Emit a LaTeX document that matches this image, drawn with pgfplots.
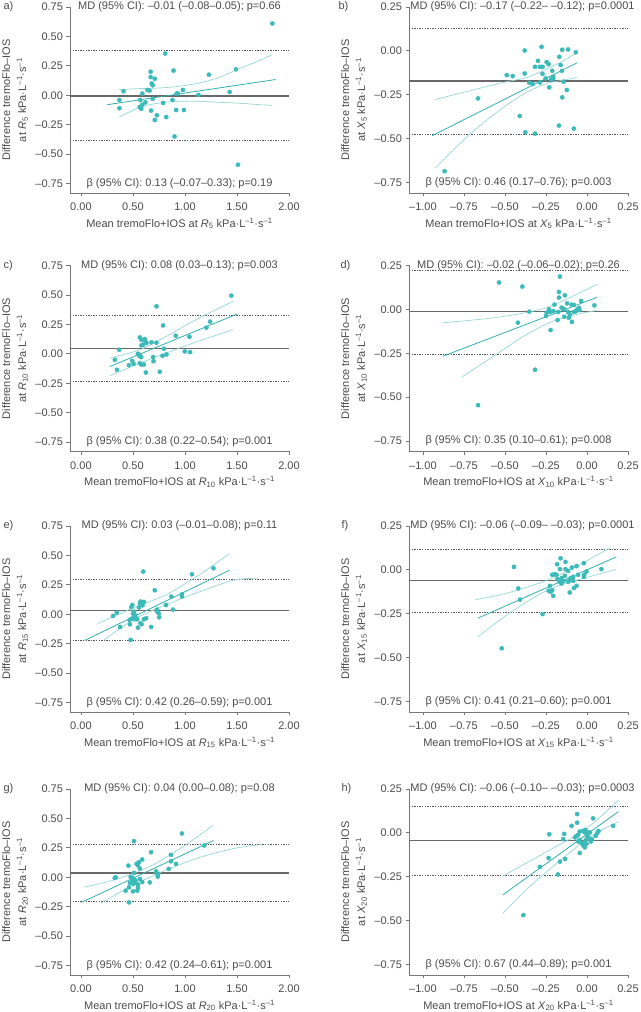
\documentclass[border=0pt]{standalone}
\usepackage{pgfplots}
\pgfplotsset{compat=1.18}
\usepackage{fontspec}
\setmainfont{Liberation Sans}
\definecolor{tealpt}{RGB}{60,186,186}
\definecolor{tealln}{RGB}{50,176,176}
\definecolor{tealci}{RGB}{150,214,214}
\definecolor{mdgray}{RGB}{105,105,105}
\definecolor{loagray}{RGB}{85,85,85}
\definecolor{axgray}{RGB}{120,120,120}
\definecolor{txtgray}{RGB}{75,75,75}
\newcommand{\unitt}{kPa·L\textsuperscript{–1}·s\textsuperscript{–1}}
\newcommand{\fs}{\fontsize{11}{16}\selectfont}
\tikzset{txt/.style={font=\fs, text=txtgray}}
\pgfplotsset{
 ba/.style={scale only axis, width=219pt, height=186pt,
   axis lines*=left, axis line style={axgray, line width=0.8pt},
   tick style={axgray, line width=0.8pt}, tick align=outside, major tick length=3.5pt,
   tick label style={font=\fs, text=txtgray},
   xticklabel style={yshift=-3pt},
   label style={font=\fs, text=txtgray},
   clip mode=individual,
   ylabel style={at={(axis description cs:-0.251,0.5)}, anchor=center, align=center},
   xlabel style={at={(axis description cs:0.5,-0.163)}, anchor=center},
   anchor=south west},
 baL/.style={ba, xmin=-0.105, xmax=2.0, ymin=-0.83, ymax=0.75,
   xtick={0,0.5,1,1.5,2}, xticklabels={0.00,0.50,1.00,1.50,2.00},
   ytick={-0.75,-0.5,-0.25,0,0.25,0.5,0.75},
   yticklabels={–0.75,–0.50,–0.25,0.00,0.25,0.50,0.75}},
 baR/.style={ba, xmin=-1.085, xmax=0.25, ymin=-0.81, ymax=0.25,
   xtick={-1,-0.75,-0.5,-0.25,0,0.25}, xticklabels={–1.00,–0.75,–0.50,–0.25,0.00,0.25},
   ytick={-0.75,-0.5,-0.25,0,0.25},
   yticklabels={–0.75,–0.50,–0.25,0.00,0.25}},
 pts/.style={only marks, mark=*, mark size=2.1pt, color=tealpt, mark options={draw=tealpt, fill=tealpt}},
 reg/.style={no marks, color=tealln, line width=0.8pt},
 ci/.style={no marks, color=tealci, line width=0.7pt, smooth},
 md/.style={no marks, color=mdgray, line width=1.3pt},
 loa/.style={no marks, color=loagray, line width=0.7pt, dash pattern=on 1.3pt off 1.3pt}
}
\begin{document}
\begin{tikzpicture}
\useasboundingbox (0,0) rectangle (640pt,1012pt);
% panel labels
\node[txt, anchor=west] at (0pt,1005pt) {a)};
\node[txt, anchor=west] at (335pt,1005pt) {b)};
\node[txt, anchor=west] at (0pt,746.5pt) {c)};
\node[txt, anchor=west] at (337pt,746.5pt) {d)};
\node[txt, anchor=west] at (0pt,486pt) {e)};
\node[txt, anchor=west] at (338pt,486pt) {f)};
\node[txt, anchor=west] at (0pt,223pt) {g)};
\node[txt, anchor=west] at (338pt,223pt) {h)};

% ---------------- a ----------------
\begin{axis}[baL, at={(70pt,819pt)},
  ylabel={Difference tremoFlo–IOS\\at \textit{R}\textsubscript{5} \unitt},
  xlabel={Mean tremoFlo+IOS at \textit{R}\textsubscript{5} \unitt}]
\addplot[loa] coordinates {(-0.105,0.383) (2.0,0.383)};
\addplot[loa] coordinates {(-0.105,-0.386) (2.0,-0.386)};
\addplot[md] coordinates {(-0.105,-0.005) (2.0,-0.005)};
\addplot[ci] coordinates {(0.368,0.048) (0.566,0.057) (0.758,0.062) (0.950,0.077) (1.142,0.105) (1.334,0.153) (1.526,0.228) (1.718,0.295) (1.84,0.347)};
\addplot[ci] coordinates {(0.368,-0.185) (0.566,-0.102) (0.758,-0.065) (0.950,-0.051) (1.142,-0.051) (1.334,-0.06) (1.526,-0.068) (1.718,-0.08) (1.84,-0.085)};
\addplot[reg] coordinates {(0.253,-0.08) (1.872,0.134)};
\addplot[pts] coordinates {(1.84,0.61) (0.81,0.355) (0.67,0.20) (0.67,0.155) (0.89,0.21) (0.71,0.14) (0.68,0.10) (0.69,0.085) (1.23,0.175) (1.49,0.22) (0.41,0.034) (0.64,0.045) (0.66,0.04) (0.59,0.014) (1.13,0.003) (1.43,0.028) (0.98,0.045) (0.92,0.014) (0.93,0.017) (0.37,-0.04) (0.37,-0.11) (0.57,-0.04) (0.565,-0.10) (0.59,-0.08) (0.58,-0.115) (0.62,-0.06) (0.69,-0.03) (0.79,-0.065) (0.88,-0.04) (0.675,-0.13) (0.73,-0.17) (0.71,-0.21) (0.82,-0.185) (0.915,-0.125) (0.99,-0.125) (0.90,-0.35) (1.51,-0.59)};
\node[txt] at (rel axis cs:0.5,1) {MD (95\% CI): –0.01 (–0.08–0.05); p=0.66};
\node[txt] at (axis cs:0.9475,-0.75) {β (95\% CI): 0.13 (–0.07–0.33); p=0.19};
\end{axis}

% ---------------- b ----------------
\begin{axis}[baR, at={(409pt,819pt)},
  ylabel={Difference tremoFlo–IOS\\at \textit{X}\textsubscript{5} \unitt},
  xlabel={Mean tremoFlo+IOS at \textit{X}\textsubscript{5} \unitt}]
\addplot[loa] coordinates {(-1.085,0.129) (0.25,0.129)};
\addplot[loa] coordinates {(-1.085,-0.475) (0.25,-0.475)};
\addplot[md] coordinates {(-1.085,-0.172) (0.25,-0.172)};
\addplot[ci] coordinates {(-0.925,-0.277) (-0.712,-0.227) (-0.51,-0.18) (-0.368,-0.152) (-0.246,-0.104) (-0.145,-0.057) (-0.06,-0.009)};
\addplot[ci] coordinates {(-0.925,-0.669) (-0.712,-0.473) (-0.51,-0.322) (-0.368,-0.237) (-0.246,-0.186) (-0.145,-0.167) (-0.06,-0.152)};
\addplot[reg] coordinates {(-0.943,-0.483) (-0.06,-0.068)};
\addplot[pts] coordinates {(-0.277,0.023) (-0.380,0.002) (-0.151,0.006) (-0.115,0.008) (-0.068,-0.008) (-0.299,-0.057) (-0.246,-0.064) (-0.234,-0.076) (-0.169,-0.034) (-0.161,-0.081) (-0.317,-0.091) (-0.287,-0.091) (-0.271,-0.091) (-0.212,-0.114) (-0.380,-0.129) (-0.271,-0.131) (-0.489,-0.138) (-0.453,-0.144) (-0.252,-0.157) (-0.206,-0.148) (-0.206,-0.157) (-0.220,-0.163) (-0.153,-0.114) (-0.352,-0.182) (-0.331,-0.189) (-0.287,-0.180) (-0.143,-0.176) (-0.230,-0.208) (-0.123,-0.223) (-0.151,-0.265) (-0.664,-0.271) (-0.410,-0.371) (-0.171,-0.426) (-0.376,-0.464) (-0.317,-0.472) (-0.080,-0.443) (-0.868,-0.686)};
\node[txt, xshift=4pt] at (rel axis cs:0.5,1) {MD (95\% CI): –0.17 (–0.22– –0.12); p=0.0001};
\node[txt] at (axis cs:-0.4175,-0.75) {β (95\% CI): 0.46 (0.17–0.76); p=0.003};
\end{axis}

% ---------------- c ----------------
\begin{axis}[baL, at={(70pt,560.5pt)},
  ylabel={Difference tremoFlo–IOS\\at \textit{R}\textsubscript{10} \unitt},
  xlabel={Mean tremoFlo+IOS at \textit{R}\textsubscript{10} \unitt}]
\addplot[loa] coordinates {(-0.105,0.327) (2.0,0.327)};
\addplot[loa] coordinates {(-0.105,-0.236) (2.0,-0.236)};
\addplot[md] coordinates {(-0.105,0.045) (2.0,0.045)};
\addplot[ci] coordinates {(0.278,-0.037) (0.566,0.034) (0.822,0.148) (1.078,0.276) (1.462,0.446)};
\addplot[ci] coordinates {(0.278,-0.188) (0.566,-0.08) (0.822,0.006) (1.078,0.091) (1.462,0.205)};
\addplot[reg] coordinates {(0.278,-0.108) (1.501,0.338)};
\addplot[pts] coordinates {(1.446,0.494) (0.726,0.403) (0.79,0.241) (1.242,0.273) (1.206,0.222) (0.912,0.153) (1.043,0.145) (0.998,0.02) (1.05,0.014) (0.566,0.139) (0.582,0.119) (0.614,0.125) (0.621,0.102) (0.63,0.091) (0.678,0.097) (0.726,0.094) (0.582,0.071) (0.598,0.077) (0.368,0.034) (0.326,-0.051) (0.346,-0.136) (0.493,-0.06) (0.506,-0.085) (0.461,-0.097) (0.547,0.0) (0.566,-0.011) (0.579,-0.028) (0.56,-0.017) (0.579,-0.091) (0.605,-0.091) (0.566,-0.08) (0.624,-0.159) (0.758,-0.153) (0.694,-0.028) (0.698,-0.063) (0.784,-0.017) (0.822,-0.006) (0.797,0.043)};
\node[txt] at (rel axis cs:0.5,1) {MD (95\% CI): 0.08 (0.03–0.13); p=0.003};
\node[txt] at (axis cs:0.9475,-0.75) {β (95\% CI): 0.38 (0.22–0.54); p=0.001};
\end{axis}

% ---------------- d ----------------
\begin{axis}[baR, at={(409pt,560.5pt)},
  ylabel={Difference tremoFlo–IOS\\at \textit{X}\textsubscript{10} \unitt},
  xlabel={Mean tremoFlo+IOS at \textit{X}\textsubscript{10} \unitt}]
\addplot[loa] coordinates {(-1.085,0.223) (0.25,0.223)};
\addplot[loa] coordinates {(-1.085,-0.254) (0.25,-0.254)};
\addplot[md] coordinates {(-1.085,-0.013) (0.25,-0.013)};
\addplot[ci] coordinates {(-0.878,-0.076) (-0.611,-0.053) (-0.408,-0.025) (-0.246,0.01) (-0.105,0.067) (0.062,0.143)};
\addplot[ci] coordinates {(-0.763,-0.386) (-0.571,-0.267) (-0.368,-0.143) (-0.206,-0.067) (-0.064,-0.029) (0.062,-0.006)};
\addplot[reg] coordinates {(-0.878,-0.267) (0.062,0.069)};
\addplot[pts] coordinates {(-0.536,0.153) (-0.394,0.13) (-0.165,0.187) (-0.171,0.099) (-0.171,0.067) (-0.135,0.08) (-0.121,0.034) (-0.094,0.027) (-0.08,0.025) (-0.198,0.027) (-0.036,0.048) (0.045,0.023) (-0.232,0.0) (-0.226,-0.015) (-0.206,-0.01) (-0.352,-0.013) (-0.246,-0.019) (-0.175,-0.015) (-0.155,0.01) (-0.145,0.004) (-0.139,0.0) (-0.115,-0.015) (-0.105,-0.029) (-0.111,-0.048) (-0.08,-0.015) (-0.068,-0.011) (-0.06,0.0) (-0.048,0.008) (-0.046,-0.004) (-0.179,-0.061) (-0.25,-0.038) (-0.092,-0.071) (-0.139,-0.042) (-0.421,-0.076) (-0.222,-0.118) (-0.317,-0.344) (-0.664,-0.546)};
\node[txt] at (rel axis cs:0.5,1) {MD (95\% CI): –0.02 (–0.06–0.02); p=0.26};
\node[txt] at (axis cs:-0.4175,-0.75) {β (95\% CI): 0.35 (0.10–0.61); p=0.008};
\end{axis}

% ---------------- e ----------------
\begin{axis}[baL, at={(70pt,300pt)},
  ylabel={Difference tremoFlo–IOS\\at \textit{R}\textsubscript{15} \unitt},
  xlabel={Mean tremoFlo+IOS at \textit{R}\textsubscript{15} \unitt}]
\addplot[loa] coordinates {(-0.105,0.295) (2.0,0.295)};
\addplot[loa] coordinates {(-0.105,-0.225) (2.0,-0.225)};
\addplot[md] coordinates {(-0.105,0.034) (2.0,0.034)};
\addplot[ci] coordinates {(0.159,-0.079) (0.51,0.057) (0.828,0.17) (1.146,0.34) (1.427,0.516)};
\addplot[ci] coordinates {(0.223,-0.218) (0.51,-0.042) (0.828,0.085) (1.146,0.193) (1.465,0.289) (1.688,0.306)};
\addplot[reg] coordinates {(0.038,-0.221) (1.427,0.374)};
\addplot[pts] coordinates {(0.599,0.363) (1.274,0.391) (1.067,0.34) (0.71,0.204) (0.971,0.17) (0.971,0.15) (0.869,0.15) (0.818,0.079) (0.885,0.04) (0.732,0.04) (0.748,0.008) (0.752,-0.025) (0.675,-0.108) (0.573,0.108) (0.605,0.105) (0.567,0.093) (0.592,0.076) (0.557,0.057) (0.494,0.079) (0.484,0.062) (0.51,0.023) (0.5,0.006) (0.52,-0.008) (0.525,-0.028) (0.541,-0.042) (0.51,-0.042) (0.494,-0.034) (0.605,-0.042) (0.627,-0.034) (0.468,-0.048) (0.573,-0.076) (0.583,-0.085) (0.471,-0.085) (0.548,-0.113) (0.376,-0.108) (0.309,-0.014) (0.344,0.014) (0.478,-0.218) (0.732,0.023)};
\node[txt] at (rel axis cs:0.5,1) {MD (95\% CI): 0.03 (–0.01–0.08); p=0.11};
\node[txt] at (axis cs:0.9475,-0.75) {β (95\% CI): 0.42 (0.26–0.59); p=0.001};
\end{axis}

% ---------------- f ----------------
\begin{axis}[baR, at={(409pt,300pt)},
  ylabel={Difference tremoFlo–IOS\\at \textit{X}\textsubscript{15} \unitt},
  xlabel={Mean tremoFlo+IOS at \textit{X}\textsubscript{15} \unitt}]
\addplot[loa] coordinates {(-1.085,0.117) (0.25,0.117)};
\addplot[loa] coordinates {(-1.085,-0.242) (0.25,-0.242)};
\addplot[md] coordinates {(-1.085,-0.0625) (0.25,-0.0625)};
\addplot[ci] coordinates {(-0.68,-0.17) (-0.51,-0.138) (-0.307,-0.081) (-0.165,-0.028) (-0.003,0.051) (0.134,0.123)};
\addplot[ci] coordinates {(-0.664,-0.381) (-0.51,-0.271) (-0.307,-0.148) (-0.165,-0.087) (-0.003,-0.044) (0.179,0.004)};
\addplot[reg] coordinates {(-0.664,-0.275) (0.179,0.074)};
\addplot[pts] coordinates {(-0.445,0.017) (-0.419,-0.106) (-0.408,-0.17) (-0.52,-0.447) (-0.271,-0.252) (-0.234,-0.119) (-0.222,-0.125) (-0.212,-0.116) (-0.206,-0.148) (-0.226,-0.091) (-0.212,-0.028) (-0.196,-0.025) (-0.186,-0.028) (-0.182,0.032) (-0.161,0.066) (-0.131,0.045) (-0.131,0.004) (-0.165,0.004) (-0.115,-0.006) (-0.092,0.013) (-0.064,0.021) (-0.019,0.038) (0.088,0.004) (-0.003,-0.009) (-0.017,-0.028) (-0.019,-0.04) (-0.054,-0.028) (-0.084,-0.04) (-0.094,-0.053) (-0.105,-0.059) (-0.084,-0.063) (-0.115,-0.068) (-0.1,-0.047) (-0.155,-0.047) (-0.145,-0.063) (-0.064,-0.091) (-0.08,-0.104) (-0.105,-0.129) (-0.17,-0.066) (-0.155,-0.078) (-0.18,-0.053) (-0.135,-0.034)};
\node[txt, xshift=4pt] at (rel axis cs:0.5,1) {MD (95\% CI): –0.06 (–0.09– –0.03); p=0.0001};
\node[txt] at (axis cs:-0.4175,-0.75) {β (95\% CI): 0.41 (0.21–0.60); p=0.001};
\end{axis}

% ---------------- g ----------------
\begin{axis}[baL, at={(70pt,37pt)},
  ylabel={Difference tremoFlo–IOS\\at \textit{R}\textsubscript{20} \unitt},
  xlabel={Mean tremoFlo+IOS at \textit{R}\textsubscript{20} \unitt}]
\addplot[loa] coordinates {(-0.105,0.278) (2.0,0.278)};
\addplot[loa] coordinates {(-0.105,-0.207) (2.0,-0.207)};
\addplot[md] coordinates {(-0.105,0.037) (2.0,0.037)};
\addplot[ci] coordinates {(0.032,-0.085) (0.35,-0.014) (0.669,0.094) (0.987,0.264) (1.274,0.443)};
\addplot[ci] coordinates {(0.191,-0.219) (0.51,-0.0625) (0.828,0.065) (1.146,0.17) (1.465,0.244) (1.736,0.278)};
\addplot[reg] coordinates {(0.006,-0.213) (1.274,0.3125)};
\addplot[pts] coordinates {(0.971,0.372) (0.51,0.307) (1.185,0.27) (0.675,0.213) (0.866,0.19) (0.866,0.136) (0.914,0.114) (0.844,0.071) (0.589,0.151) (0.557,0.128) (0.535,0.114) (0.548,0.102) (0.456,0.099) (0.567,0.074) (0.51,0.037) (0.723,0.051) (0.726,0.037) (0.739,0.023) (0.739,0.006) (0.334,0.0) (0.325,-0.006) (0.478,0.003) (0.494,-0.006) (0.503,-0.011) (0.51,-0.02) (0.525,-0.028) (0.51,-0.04) (0.494,-0.028) (0.516,-0.048) (0.503,-0.057) (0.471,-0.048) (0.462,-0.085) (0.43,-0.114) (0.5,-0.119) (0.548,-0.091) (0.541,-0.114) (0.567,-0.014) (0.589,-0.04) (0.662,-0.043) (0.462,-0.213) (0.548,-0.062)};
\node[txt] at (rel axis cs:0.5,1) {MD (95\% CI): 0.04 (0.00–0.08); p=0.08};
\node[txt] at (axis cs:0.9475,-0.75) {β (95\% CI): 0.42 (0.24–0.61); p=0.001};
\end{axis}

% ---------------- h ----------------
\begin{axis}[baR, at={(409pt,37pt)},
  ylabel={Difference tremoFlo–IOS\\at \textit{X}\textsubscript{20} \unitt},
  xlabel={Mean tremoFlo+IOS at \textit{X}\textsubscript{20} \unitt}]
\addplot[loa] coordinates {(-1.085,0.149) (0.25,0.149)};
\addplot[loa] coordinates {(-1.085,-0.243) (0.25,-0.243)};
\addplot[md] coordinates {(-1.085,-0.045) (0.25,-0.045)};
\addplot[ci] coordinates {(-0.514,-0.247) (-0.368,-0.171) (-0.206,-0.087) (-0.084,-0.024) (0.037,0.055) (0.191,0.186)};
\addplot[ci] coordinates {(-0.514,-0.46) (-0.368,-0.322) (-0.206,-0.19) (-0.084,-0.096) (0.037,-0.011) (0.191,0.064)};
\addplot[reg] coordinates {(-0.514,-0.354) (0.191,0.121)};
\addplot[pts] coordinates {(0.159,0.04) (0.037,0.083) (-0.06,0.107) (-0.06,0.058) (-0.094,0.04) (-0.23,-0.008) (-0.139,-0.006) (-0.145,-0.036) (-0.073,-0.026) (-0.064,-0.017) (-0.054,-0.011) (-0.044,0.008) (-0.024,0.011) (-0.01,0.017) (-0.013,0.002) (-0.054,-0.049) (-0.044,-0.04) (-0.034,-0.058) (-0.023,-0.068) (-0.013,-0.049) (-0.003,-0.036) (0.004,-0.02) (0.014,-0.03) (0.024,-0.049) (0.03,-0.036) (0.006,0.002) (0.018,0.002) (0.053,-0.017) (0.062,-0.002) (0.07,0.011) (-0.044,-0.115) (-0.133,-0.149) (-0.234,-0.143) (-0.165,-0.164) (-0.287,-0.194) (-0.177,-0.237) (-0.388,-0.469) (-0.013,-0.083) (-0.023,-0.072) (-0.003,-0.062)};
\node[txt, xshift=4pt] at (rel axis cs:0.5,1) {MD (95\% CI): –0.06 (–0.10– –0.03); p=0.0003};
\node[txt] at (axis cs:-0.4175,-0.75) {β (95\% CI): 0.67 (0.44–0.89); p=0.001};
\end{axis}
\end{tikzpicture}
\end{document}
